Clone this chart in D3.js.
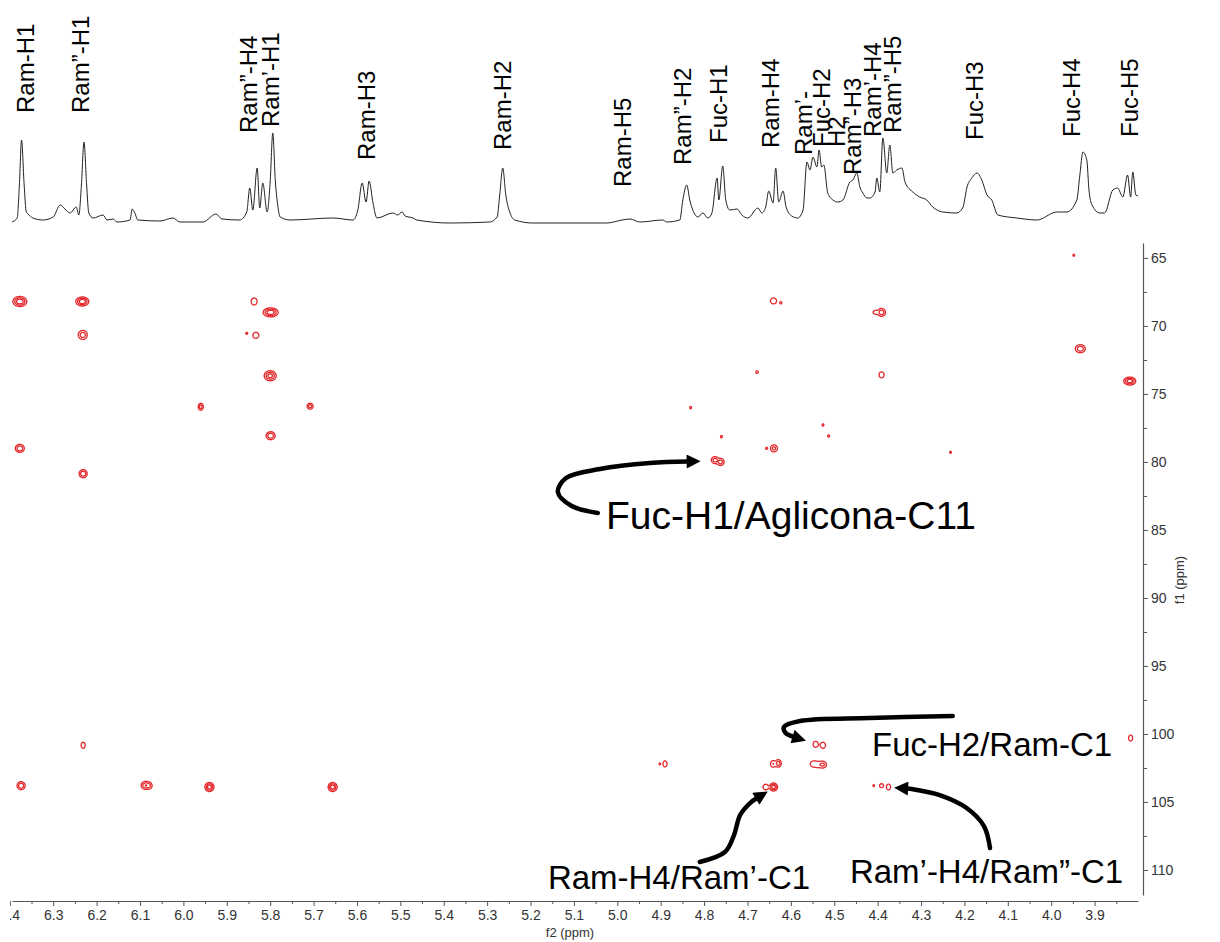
<!DOCTYPE html>
<html><head><meta charset="utf-8">
<script src="https://cdn.jsdelivr.net/npm/d3@7"></script>
<style>body{margin:0;background:#fff}svg{display:block}</style>
</head><body>
<svg id="c" width="1220" height="942"></svg>
<script>
// ---------- DATA ----------
const f2Ticks = [6.4,6.3,6.2,6.1,6.0,5.9,5.8,5.7,5.6,5.5,5.4,5.3,5.2,5.1,5.0,4.9,4.8,4.7,4.6,4.5,4.4,4.3,4.2,4.1,4.0,3.9];
const f2Minor = [6.35,6.25,6.15,6.05,5.95,5.85,5.75,5.65,5.55,5.45,5.35,5.25,5.15,5.05,4.95,4.85,4.75,4.65,4.55,4.45,4.35,4.25,4.15,4.05,3.95,3.85];
const f1Ticks = [65,70,75,80,85,90,95,100,105,110];
const f1Minor = [67.5,72.5,77.5,82.5,87.5,92.5,97.5,102.5,107.5];

// 1D proton trace (ppm, relative intensity)
const specPpm = [6.395,6.383,6.378,6.373,6.367,6.362,6.358,6.347,6.324,6.300,6.284,6.273,6.261,6.247,6.241,6.235,6.229,6.223,6.218,6.208,6.185,6.176,6.162,6.153,6.123,6.118,6.112,6.105,6.054,6.024,6.008,5.955,5.925,5.911,5.870,5.854,5.847,5.840,5.830,5.824,5.817,5.807,5.800,5.794,5.788,5.784,5.777,5.754,5.655,5.609,5.598,5.588,5.579,5.572,5.563,5.554,5.517,5.506,5.496,5.489,5.471,5.462,5.386,5.294,5.277,5.271,5.264,5.257,5.248,5.236,5.195,5.024,4.989,4.971,4.948,4.895,4.886,4.856,4.849,4.840,4.833,4.826,4.814,4.803,4.791,4.782,4.770,4.766,4.757,4.750,4.741,4.724,4.713,4.699,4.676,4.667,4.658,4.651,4.641,4.635,4.628,4.618,4.611,4.598,4.584,4.572,4.563,4.556,4.549,4.540,4.535,4.529,4.524,4.515,4.503,4.492,4.480,4.464,4.457,4.448,4.441,4.434,4.425,4.418,4.406,4.402,4.395,4.388,4.379,4.372,4.365,4.356,4.344,4.337,4.319,4.303,4.287,4.273,4.250,4.218,4.204,4.194,4.183,4.171,4.160,4.148,4.137,4.123,4.079,4.033,3.987,3.964,3.941,3.934,3.927,3.918,3.913,3.906,3.888,3.877,3.858,3.847,3.835,3.824,3.817,3.812,3.805,3.800];
const specInt = [0,4,37,82,37,10,8,4,2,5,17,13,9,15,7,37,80,37,9,4,7,2,3,0,2,13,9,2,1,4,0,0,8,3,2,10,34,12,54,14,39,10,40,89,40,22,5,2,4,2,12,39,20,41,19,4,9,7,10,6,4,2,-1,0,5,27,54,27,10,2,-1,-1,2,3,0,2,0,2,22,37,22,12,5,9,4,9,44,22,56,22,12,13,7,4,14,9,15,31,19,54,20,31,15,6,4,12,60,52,65,55,72,55,57,29,22,20,22,40,42,49,35,29,24,24,30,44,30,84,49,77,49,52,54,40,30,25,22,15,10,9,14,35,44,49,42,27,22,7,4,2,10,10,22,47,70,62,32,17,9,9,32,34,25,47,25,50,27,26];

// assignment labels over the 1D trace
const peakLabels = ["Ram-H1","Ram\u201D-H1","Ram\u201D-H4","Ram\u2019-H1","Ram-H3","Ram-H2","Ram-H5","Ram\u201D-H2","Fuc-H1","Ram-H4","Ram\u2019-","Fuc-H2","H2","Ram\u201D-H3","Ram\u2019-H4","Ram\u201D-H5","Fuc-H3","Fuc-H4","Fuc-H5"];
const labelPpm = [6.365,6.238,5.851,5.800,5.579,5.266,4.989,4.849,4.768,4.648,4.572,4.529,4.496,4.459,4.413,4.365,4.176,3.953,3.819];
const labelBase = [109,109,89,95,62,72,35,57,79,74,67,75,75,47,85,89,82,85,85];

// cross peaks: f2 (ppm), f1 (ppm), relative intensity, linewidths (ppm)
const crossF2 = [6.377,6.233,6.232,5.837,5.799,5.854,5.833,5.800,5.960,5.708,6.377,5.799,6.231,4.640,4.623,4.391,4.405,3.933,4.678,4.391,4.831,4.526,4.513,4.760,4.639,4.656,4.232,4.775,4.762,3.819,3.948,6.231,6.374,6.087,6.078,5.940,5.656,4.543,4.526,4.890,4.902,4.641,4.629,4.548,4.537,4.526,4.658,4.640,4.409,4.391,4.375,3.817];
const crossF1 = [68.20,68.20,70.66,68.20,69.00,70.54,70.69,73.66,75.94,75.90,79.00,78.07,80.86,68.16,68.30,69.00,69.00,71.67,73.40,73.60,76.00,77.28,78.09,78.14,79.00,79.00,79.29,79.86,80.00,74.05,64.80,100.83,103.80,103.78,103.80,103.90,103.90,100.76,100.83,102.20,102.20,102.20,102.16,102.20,102.25,102.25,103.90,103.90,103.80,103.80,103.90,100.30];
const crossAmp = [1.0,1.0,0.5,0.28,1.0,0.12,0.22,0.8,0.45,0.45,0.6,0.6,0.6,0.2,0.12,0.5,0.25,0.55,0.13,0.2,0.12,0.12,0.12,0.12,0.4,0.12,0.12,0.45,0.45,0.9,0.12,0.22,0.6,0.6,0.25,0.9,0.9,0.2,0.2,0.25,0.12,0.3,0.45,0.2,0.2,0.35,0.25,0.9,0.12,0.2,0.25,0.25];
const crossWf2 = [0.0075,0.0070,0.0058,0.0048,0.0081,0.0038,0.0055,0.0068,0.0033,0.0040,0.0055,0.0055,0.0049,0.0059,0.0038,0.0051,0.0040,0.0062,0.0040,0.0049,0.0035,0.0035,0.0035,0.0035,0.0048,0.0035,0.0035,0.0047,0.0047,0.0066,0.0035,0.0037,0.0049,0.0055,0.0040,0.0050,0.0050,0.0049,0.0049,0.0034,0.0030,0.0040,0.0040,0.0060,0.0060,0.0050,0.0045,0.0044,0.0030,0.0040,0.0035,0.0035];
const crossWf1 = [0.171,0.154,0.184,0.180,0.154,0.122,0.176,0.180,0.149,0.127,0.155,0.155,0.155,0.187,0.122,0.164,0.100,0.160,0.130,0.187,0.140,0.140,0.140,0.140,0.155,0.120,0.120,0.149,0.149,0.140,0.120,0.176,0.155,0.155,0.150,0.158,0.158,0.187,0.187,0.163,0.120,0.160,0.160,0.170,0.170,0.150,0.150,0.140,0.120,0.120,0.160,0.160];
const contourLevels = [0.1,0.3,0.6];

// annotations
const annoText = ["Fuc-H1/Aglicona-C11","Fuc-H2/Ram-C1","Ram-H4/Ram\u2019-C1","Ram\u2019-H4/Ram\u201D-C1"];
const annoF2 = [5.026,4.413,5.160,4.464];
const annoF1 = [84.93,101.62,111.40,110.96];
const arrowF2 = [[5.045,5.105,5.137,5.118,5.040,4.925,4.837],[4.227,4.418,4.579,4.616,4.612,4.593],[4.810,4.752,4.731,4.717,4.694,4.678],[4.141,4.155,4.195,4.257,4.321,4.333]];
const arrowF1 = [[83.75,83.24,82.21,81.18,80.52,80.08,79.97],[98.68,98.83,99.05,99.49,99.93,100.22],[109.41,108.68,107.43,105.96,105.08,104.71],[108.39,106.77,105.44,104.49,104.05,104.01]];

// ---------- CHART ----------
const svg = d3.select("#c");
const FONT = "'Liberation Sans', Arial, Helvetica, sans-serif";
const x = d3.scaleLinear().domain([6.395, 3.80]).range([12, 1138]);
const y = d3.scaleLinear().domain([63.9, 111.84]).range([243, 895]);
const yTop = d3.scaleLinear().domain([0, 100]).range([222, 122]);

const defs = svg.append("defs");
defs.append("clipPath").attr("id","clipL")
  .append("rect").attr("x",10).attr("y",0).attr("width",1210).attr("height",942);
defs.append("marker").attr("id","ah").attr("viewBox","0 0 10 10")
  .attr("refX",1).attr("refY",5).attr("markerWidth",15).attr("markerHeight",14)
  .attr("markerUnits","userSpaceOnUse").attr("orient","auto")
  .append("path").attr("d","M0,0 L10,5 L0,10 Z").attr("fill","#000");

// 1D trace
const specLine = d3.line().x(d => x(d[0])).y(d => yTop(d[1])).curve(d3.curveMonotoneX);
svg.append("path")
  .datum(specPpm.map((p,i) => [p, specInt[i]]))
  .attr("d", specLine).attr("fill","none").attr("stroke","#222").attr("stroke-width",1);

// labels
svg.append("g").selectAll("text").data(peakLabels).join("text")
  .attr("transform",(d,i) => `translate(${x(labelPpm[i])},${yTop(labelBase[i])}) rotate(-90)`)
  .attr("dy","0.36em").attr("font-family",FONT).attr("font-size",24).attr("fill","#000")
  .text(d => d);

// 2D contours: field built from the cross-peak list, contoured with d3.contours
const X0 = 12, Y0 = 243, SS = 2;
const W = Math.round((1143 - X0) * SS), H = Math.round((895 - Y0) * SS);
const field = new Float64Array(W * H);
crossF2.forEach((p, k) => {
  const cx = (x(p) - X0) * SS, cy = (y(crossF1[k]) - Y0) * SS;
  const sx = Math.abs(x(p + crossWf2[k]) - x(p)) * SS;
  const sy = Math.abs(y(crossF1[k] + crossWf1[k]) - y(crossF1[k])) * SS;
  const a = crossAmp[k];
  const i0 = Math.max(0, Math.floor(cx - 4*sx)), i1 = Math.min(W-1, Math.ceil(cx + 4*sx));
  const j0 = Math.max(0, Math.floor(cy - 4*sy)), j1 = Math.min(H-1, Math.ceil(cy + 4*sy));
  for (let j = j0; j <= j1; j++) {
    const dy = (j + 0.5 - cy) / sy;
    for (let i = i0; i <= i1; i++) {
      const dx = (i + 0.5 - cx) / sx;
      field[j*W + i] += a * Math.exp(-0.5 * (dx*dx + dy*dy));
    }
  }
});
const contours = d3.contours().size([W, H]).thresholds(contourLevels)(field);
const proj = d3.geoTransform({ point: function(px, py) { this.stream.point(X0 + px/SS, Y0 + py/SS); } });
svg.append("g").selectAll("path").data(contours).join("path")
  .attr("d", d3.geoPath(proj)).attr("fill","none")
  .attr("stroke","#e3262a").attr("stroke-width",1.3);

// axes
function styleAxis(g) {
  g.select(".domain").attr("stroke","#555").attr("stroke-width",1.2);
  g.selectAll(".tick line").attr("stroke","#555");
  g.selectAll(".tick text").attr("fill","#333").attr("font-family",FONT).attr("font-size",14);
}
const gx = svg.append("g").attr("transform","translate(0,901)").attr("clip-path","url(#clipL)")
  .call(d3.axisBottom(x).tickValues(f2Ticks).tickFormat(d3.format(".1f")).tickSize(5).tickSizeOuter(0).tickPadding(4));
styleAxis(gx);
const gxm = svg.append("g").attr("transform","translate(0,901)")
  .call(d3.axisBottom(x).tickValues(f2Minor).tickFormat("").tickSize(3).tickSizeOuter(0));
gxm.select(".domain").remove(); gxm.selectAll(".tick line").attr("stroke","#555");

const gy = svg.append("g").attr("transform","translate(1143,0)")
  .call(d3.axisRight(y).tickValues(f1Ticks).tickFormat(d3.format("d")).tickSize(5).tickSizeOuter(0).tickPadding(3));
styleAxis(gy);
const gym = svg.append("g").attr("transform","translate(1143,0)")
  .call(d3.axisRight(y).tickValues(f1Minor).tickFormat("").tickSize(4).tickSizeOuter(0));
gym.select(".domain").remove(); gym.selectAll(".tick line").attr("stroke","#555");

svg.append("text").attr("x",570).attr("y",937).attr("text-anchor","middle")
  .attr("font-family",FONT).attr("font-size",13).attr("fill","#333").text("f2 (ppm)");
svg.append("text").attr("transform","translate(1184,580) rotate(-90)").attr("text-anchor","middle")
  .attr("font-family",FONT).attr("font-size",13).attr("fill","#333").text("f1 (ppm)");

// arrows
const arrowLine = d3.line().x(d => x(d[0])).y(d => y(d[1])).curve(d3.curveCatmullRom);
svg.append("g").selectAll("path").data(arrowF2).join("path")
  .attr("d",(d,k) => arrowLine(d.map((p,i) => [p, arrowF1[k][i]])))
  .attr("fill","none").attr("stroke","#000").attr("stroke-width",4.5)
  .attr("stroke-linecap","round").attr("marker-end","url(#ah)");

// annotation texts
svg.append("g").selectAll("text").data(annoText).join("text")
  .attr("x",(d,i) => x(annoF2[i])).attr("y",(d,i) => y(annoF1[i]))
  .attr("font-family",FONT).attr("font-size",(d,i) => i === 0 ? 39 : 33).attr("fill","#000")
  .text(d => d);
</script>
</body></html>
